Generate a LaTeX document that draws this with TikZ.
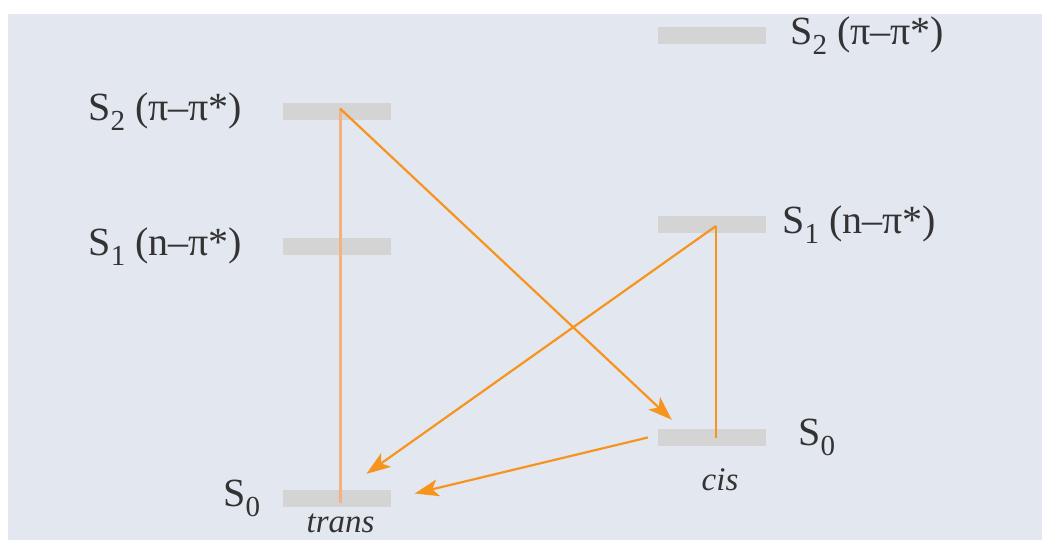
\documentclass[tikz,border=0pt]{standalone}
\usepackage{fontspec}
\setmainfont{Liberation Serif}
\usetikzlibrary{positioning,calc,arrows.meta}
\definecolor{bgF}{HTML}{E3E7F0}
\definecolor{lvF}{HTML}{D4D4D4}
\definecolor{orB}{HTML}{F7941D}
\definecolor{orL}{HTML}{F5B27E}
\definecolor{txt}{HTML}{333333}
\newcommand{\lsub}[1]{\raisebox{-0.26em}{\fontsize{29}{29}\selectfont #1}}

\begin{document}
\begin{tikzpicture}[
  x=1pt,y=-1pt,
  font=\fontsize{40}{44}\selectfont,text=txt,node distance=38pt,
  level/.style={fill=lvF,inner sep=0pt,minimum width=108pt,minimum height=17pt},
  lab/.style={inner sep=0pt},
  tag/.style={inner sep=0pt,font=\fontsize{33}{36}\selectfont\itshape},
  trs/.style={draw=orB,line width=2.2pt,-{Stealth[length=24pt,width=17pt,inset=6pt]}},
  ]
\useasboundingbox (0,0) rectangle (1042,541);
\fill[bgF] (8,14) rectangle (1042,540);

% ---- levels ----
\node[level] (ls2) at (336.5,111.5) {};
\node[level] (ls1) at (336.5,246.5) {};
\node[level] (ls0) at (336.5,498.5) {};
\node[level] (rs2) at (712,35.5) {};
\node[level] (rs1) at (712,224.5) {};
\node[level] (rs0) at (712,437.5) {};

% ---- labels ----
\node[lab,left=40pt of ls2] (ls2t) {S\lsub{2} (π–π*)};
\node[lab,left=40pt of ls1] (ls1t) {S\lsub{1} (n–π*)};
\node[lab,left=22pt of ls0] (ls0t) {S\lsub{0}};
\node[lab,right=24pt of rs2] (rs2t) {S\lsub{2} (π–π*)};
\node[lab,right=16pt of rs1] (rs1t) {S\lsub{1} (n–π*)};
\node[lab,right=32pt of rs0] (rs0t) {S\lsub{0}};
\node[tag,below=7pt of ls0,xshift=4pt] (trans) {trans};
\node[tag,below=22pt of rs0,xshift=8pt] (cis) {cis};

% ---- transitions ----
\coordinate (a2) at ($(ls2.center)+(3.5,-3)$);
\coordinate (a0) at ($(ls0.center)+(3.5,4)$);
\coordinate (b1) at ($(rs1.center)+(4,1.5)$);
\coordinate (b0) at ($(rs0.center)+(4,0)$);
\coordinate (c0) at ($(rs0.west)+(-10,0)$);
\draw[draw=orL,line width=3pt] (a2) -- (a0);
\draw[draw=orB,line width=2.2pt] (b1) -- (b0);
\draw[trs] (a2) -- ($(rs0.north west)+(14,-9)$);
\draw[trs] (b1) -- ($(ls0.north)+(30,-16)$);
\draw[trs] (c0) -- ($(ls0.east)+(24,-5)$);

\end{tikzpicture}
\end{document}
